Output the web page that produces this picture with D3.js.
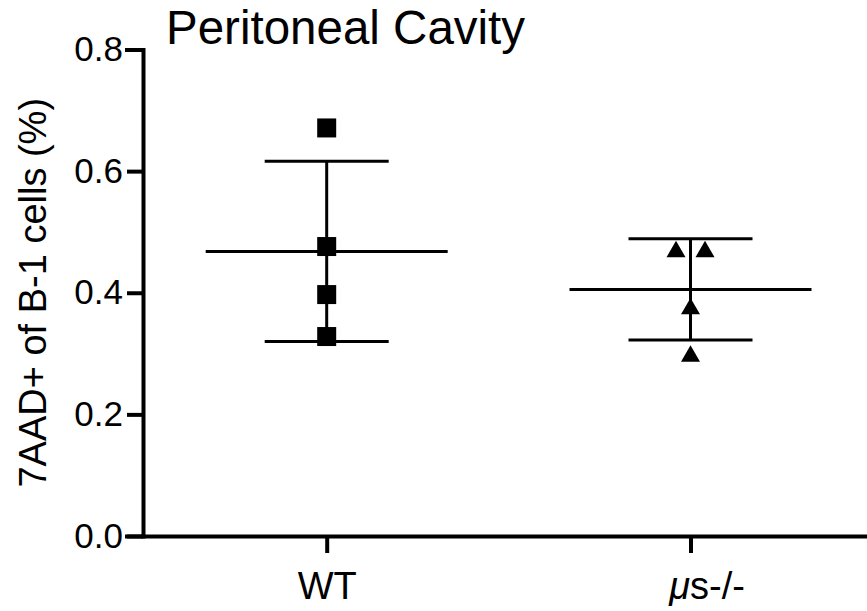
<!DOCTYPE html>
<html>
<head>
<meta charset="utf-8">
<script src="https://cdn.jsdelivr.net/npm/d3@7"></script>
<style>
  body { margin: 0; background: #fff; }
  text { font-family: "Liberation Sans", Arial, Helvetica, sans-serif; fill: #000; }
</style>
</head>
<body>
<div id="vis"></div>
<script>
// data
const groups = ["WT", "μs-/-"];
const wtValues = [0.671, 0.476, 0.397, 0.328];
const musValues = [0.472, 0.472, 0.378, 0.300];
const yTicks = [0, 0.2, 0.4, 0.6, 0.8];
const title = "Peritoneal Cavity";
const yLabel = "7AAD+ of B-1 cells (%)";

const series = [
  { group: groups[0], values: wtValues, shape: d3.symbolSquare, size: 361 },
  { group: groups[1], values: musValues, shape: d3.symbolTriangle, size: 156 }
];

const width = 867, height = 611;

const x = d3.scalePoint()
  .domain(groups)
  .range([143, 867])
  .padding(0.495)
  .align(0.51);

const y = d3.scaleLinear()
  .domain([0, 0.8])
  .range([536, 49.5]);

const svg = d3.select("#vis")
  .append("svg")
    .attr("width", width)
    .attr("height", height);

//#region axes
const yAxis = svg.append("g")
  .attr("transform", `translate(${x.range()[0]},0)`)
  .call(d3.axisLeft(y).tickValues(yTicks).tickFormat(d3.format(".1f"))
    .tickSize(16).tickPadding(4));

const xAxis = svg.append("g")
  .attr("transform", `translate(0,${y(0)})`)
  .call(d3.axisBottom(x).tickSize(17).tickSizeOuter(0).tickPadding(19));

[yAxis, xAxis].forEach(g => {
  g.selectAll("path, line").attr("stroke", "#000").attr("stroke-width", 4);
  g.select(".domain").attr("stroke-linecap", "square");
  g.selectAll("text").attr("fill", "#000").attr("font-family", null);
});
yAxis.selectAll("text").attr("font-size", 35);
xAxis.selectAll("text").attr("font-size", 38);

// italic mu in the second label
xAxis.selectAll(".tick text")
  .filter(d => d === groups[1])
  .text(null)
  .attr("dx", 16)
  .call(t => {
    t.append("tspan").attr("font-style", "italic").text("μ");
    t.append("tspan").text("s-/-");
  });
//#endregion

//#region points and error bars
const symbolGen = d3.symbol();

series.forEach(s => {
  const cx = x(s.group);
  const mean = d3.mean(s.values);
  const sd = d3.deviation(s.values);

  // spread equal values side by side
  const counts = d3.rollup(s.values, v => v.length, d => d);
  const seen = new Map();
  const pts = s.values.map(v => {
    const n = counts.get(v);
    const i = seen.get(v) || 0;
    seen.set(v, i + 1);
    return { v, dx: (i - (n - 1) / 2) * 29 };
  });

  // triangles are centred on their box, not their centroid
  const shift = s.shape === d3.symbolTriangle
    ? Math.sqrt(s.size / (3 * Math.sqrt(3))) / 2 : 0;

  const g = svg.append("g");

  g.selectAll("path")
    .data(pts)
    .join("path")
      .attr("d", symbolGen.type(s.shape).size(s.size)())
      .attr("transform", d => `translate(${cx + d.dx},${y(d.v) + shift})`)
      .attr("fill", "#000");

  const bars = g.append("g")
    .attr("stroke", "#000")
    .attr("stroke-width", 3);

  bars.append("line")
    .attr("x1", cx).attr("x2", cx)
    .attr("y1", y(mean + sd)).attr("y2", y(mean - sd));

  bars.selectAll(".cap")
    .data([mean + sd, mean - sd])
    .join("line")
      .attr("class", "cap")
      .attr("x1", cx - 62).attr("x2", cx + 62)
      .attr("y1", d => y(d)).attr("y2", d => y(d));

  bars.append("line")
    .attr("x1", cx - 121).attr("x2", cx + 121)
    .attr("y1", y(mean)).attr("y2", y(mean));
});
//#endregion

//#region text
svg.append("text")
  .attr("x", 166)
  .attr("y", 44)
  .attr("font-size", 47.5)
  .text(title);

svg.append("text")
  .attr("transform", `translate(46,${(y(0) + y(0.8)) / 2}) rotate(-90)`)
  .attr("text-anchor", "middle")
  .attr("font-size", 38)
  .text(yLabel);
//#endregion
</script>
</body>
</html>
